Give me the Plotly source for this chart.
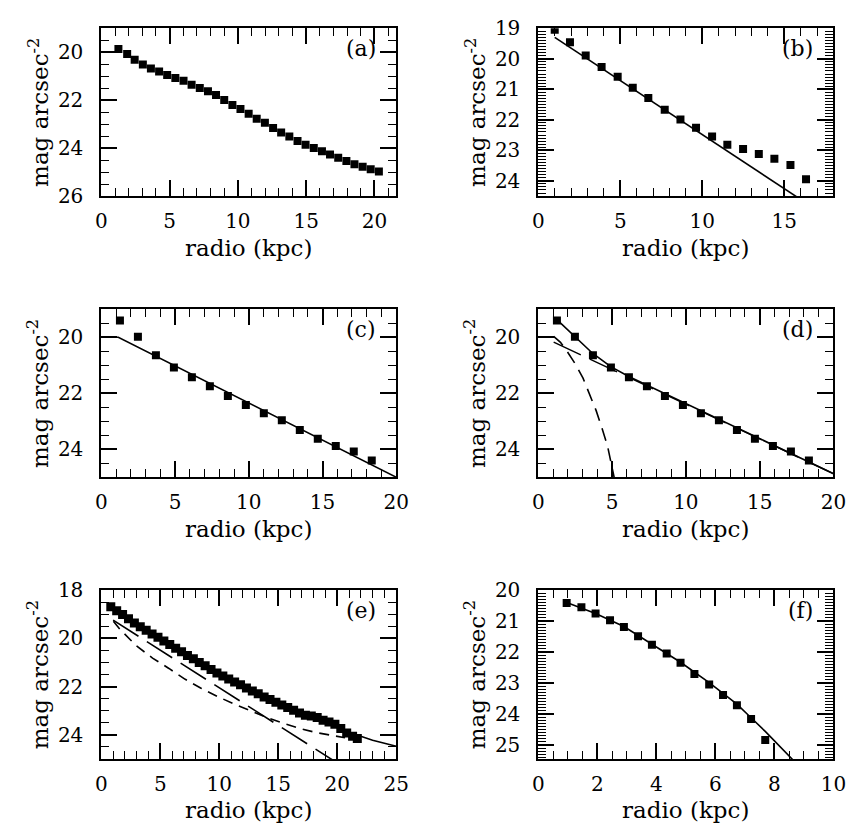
import plotly.graph_objects as go

# ---------------- data ----------------
a_x = [1.25, 1.89, 2.44, 3.04, 3.63, 4.23, 4.82, 5.42, 6.02, 6.61, 7.21, 7.81, 8.40, 9.00, 9.60,
       10.19, 10.79, 11.38, 11.98, 12.58, 13.17, 13.77, 14.37, 14.96, 15.56, 16.16, 16.75, 17.35,
       17.95, 18.54, 19.14, 19.73, 20.33]
a_y = [19.87, 20.07, 20.31, 20.51, 20.68, 20.81, 20.95, 21.08, 21.19, 21.36, 21.49, 21.63, 21.79,
       21.99, 22.20, 22.37, 22.57, 22.78, 22.94, 23.16, 23.35, 23.52, 23.70, 23.86, 24.00, 24.13,
       24.27, 24.40, 24.54, 24.67, 24.78, 24.88, 24.97]

b_x = [1.0, 1.93, 2.89, 3.86, 4.84, 5.76, 6.71, 7.71, 8.67, 9.62, 10.6, 11.53, 12.49, 13.45, 14.4,
       15.38, 16.33]
b_y = [19.05, 19.46, 19.89, 20.27, 20.59, 20.95, 21.29, 21.67, 21.99, 22.26, 22.55, 22.82, 22.96,
       23.12, 23.28, 23.48, 23.95]
b_fit_x = [1.0, 17.5]
b_fit_y = [19.3, 25.14]

cd_x = [1.26, 2.48, 3.70, 4.92, 6.14, 7.36, 8.58, 9.80, 11.02, 12.24, 13.46, 14.68, 15.90, 17.12,
        18.34]
cd_y = [19.40, 19.98, 20.64, 21.08, 21.43, 21.75, 22.10, 22.42, 22.71, 22.96, 23.31, 23.62, 23.88,
        24.08, 24.40]
c_fit_x = [0.0, 1.15, 20.2]
c_fit_y = [20.0, 20.0, 25.05]

d_total_x = [1.26, 2.48, 3.69, 4.91, 6.13, 20.2]
d_total_y = [19.37, 19.96, 20.58, 21.05, 21.40, 24.92]
d_disk_x = [1.04, 20.2]
d_disk_y = [20.17, 24.92]
d_flat_x = [0.0, 1.04]
d_flat_y = [20.0, 20.0]
d_bulge_x = [1.04, 1.50, 1.92, 2.50, 3.03, 3.50, 3.92, 4.30, 4.69, 5.13, 5.30]
d_bulge_y = [19.97, 20.18, 20.48, 20.95, 21.46, 22.05, 22.62, 23.22, 23.88, 24.98, 25.40]

e_x = [0.8, 1.3, 1.8, 2.3, 2.8, 3.3, 3.8, 4.3, 4.8, 5.3, 5.8, 6.3, 6.8, 7.3, 7.8, 8.3, 8.8, 9.3,
       9.8, 10.3, 10.8, 11.3, 11.8, 12.3, 12.8, 13.3, 13.8, 14.3, 14.8, 15.3, 15.8, 16.3, 16.8,
       17.3, 17.8, 18.3, 18.8, 19.3, 19.8, 20.3, 20.8, 21.3, 21.7]
e_y = [18.69, 18.86, 19.02, 19.19, 19.37, 19.52, 19.67, 19.82, 19.96, 20.11, 20.26, 20.41, 20.56,
       20.71, 20.85, 21.00, 21.14, 21.29, 21.44, 21.56, 21.69, 21.81, 21.93, 22.06, 22.18, 22.30,
       22.43, 22.54, 22.65, 22.76, 22.87, 22.98, 23.09, 23.19, 23.22, 23.28, 23.40, 23.47, 23.56,
       23.74, 23.92, 24.06, 24.15]
e_total_x = [0.8, 3.3, 5.8, 8.3, 10.8, 13.3, 15.8, 18.3, 20.8, 23.0, 25.0]
e_total_y = [18.69, 19.52, 20.26, 21.00, 21.69, 22.30, 22.87, 23.33, 23.86, 24.22, 24.47]
e_long_x = [1.0, 20.6]
e_long_y = [19.25, 25.35]
e_short_x = [1.02, 1.58, 2.96, 4.34, 5.73, 7.11, 8.49, 9.88, 11.26, 12.64, 14.02, 15.41, 16.79,
             18.17, 19.56, 20.66]
e_short_y = [19.29, 19.63, 20.31, 20.82, 21.25, 21.70, 22.08, 22.42, 22.72, 23.00, 23.28, 23.52,
             23.73, 23.90, 24.03, 24.12]

f_x = [0.96, 1.46, 1.94, 2.43, 2.90, 3.38, 3.85, 4.35, 4.82, 5.29, 5.79, 6.26, 6.73, 7.21, 7.69]
f_y = [20.42, 20.56, 20.76, 20.98, 21.19, 21.49, 21.77, 22.05, 22.35, 22.71, 23.05, 23.39, 23.72,
       24.16, 24.84]
f_fit_x = [0.96, 1.94, 2.90, 3.85, 4.82, 5.79, 6.73, 7.21, 7.69, 8.70]
f_fit_y = [20.40, 20.76, 21.18, 21.74, 22.33, 22.99, 23.68, 24.12, 24.56, 25.55]

panel_labels = ["(a)", "(b)", "(c)", "(d)", "(e)", "(f)"]
x_title = "radio (kpc)"
y_title = "mag arcsec<sup>-2</sup>"

# ---------------- layout geometry ----------------
W, H = 864, 839
FONT = "DejaVu Serif"
col_px = [(97.5, 399.0), (544.3, 846.0)]
row_px = [(16.7, 189.5), (306.0, 479.0), (595.0, 769.0)]

panels = [
    dict(col=0, row=0, xr=[0, 21.6], yr=[26, 19], xd=5, xm=1, yd=2, ym=0.5),
    dict(col=1, row=0, xr=[0, 18], yr=[24.5, 19], xd=5, xm=1, yd=1, ym=0.1),
    dict(col=0, row=1, xr=[0, 20], yr=[25, 19], xd=5, xm=1, yd=2, ym=0.5),
    dict(col=1, row=1, xr=[0, 20], yr=[25, 19], xd=5, xm=1, yd=2, ym=0.5),
    dict(col=0, row=2, xr=[0, 25], yr=[25, 18], xd=5, xm=1, yd=2, ym=0.5),
    dict(col=1, row=2, xr=[0, 10], yr=[25.45, 20], xd=2, xm=0.5, yd=1, ym=0.1),
]


def sfx(i):
    return "" if i == 0 else str(i + 1)


fig = go.Figure()


def sq(x, y, i, size=8):
    fig.add_trace(go.Scatter(x=x, y=y, mode="markers", xaxis="x" + sfx(i), yaxis="y" + sfx(i),
                             marker=dict(symbol="square", size=size, color="black"),
                             showlegend=False, cliponaxis=True))


def ln(x, y, i, dash="solid", width=1.6):
    fig.add_trace(go.Scatter(x=x, y=y, mode="lines", xaxis="x" + sfx(i), yaxis="y" + sfx(i),
                             line=dict(color="black", width=width, dash=dash),
                             showlegend=False))


# (a)
sq(a_x, a_y, 0)
# (b)
ln(b_fit_x, b_fit_y, 1)
sq(b_x, b_y, 1)
# (c)
ln(c_fit_x, c_fit_y, 2)
sq(cd_x, cd_y, 2)
# (d)
ln(d_flat_x, d_flat_y, 3)
ln(d_bulge_x, d_bulge_y, 3, dash="13px,8px")
ln(d_disk_x, d_disk_y, 3, dash="30px,10px", width=1.4)
ln(d_total_x, d_total_y, 3)
sq(cd_x, cd_y, 3)
# (e)
ln(e_long_x, e_long_y, 4, dash="30px,10px")
ln(e_short_x, e_short_y, 4, dash="10px,7px")
ln(e_total_x, e_total_y, 4)
sq(e_x, e_y, 4, size=9)
# (f)
ln(f_fit_x, f_fit_y, 5)
sq(f_x, f_y, 5)

annotations = []
layout_axes = {}
for i, p in enumerate(panels):
    s = sfx(i)
    x0, x1 = col_px[p["col"]]
    y0, y1 = row_px[p["row"]]
    xdom = [x0 / W, x1 / W]
    ydom = [1 - y1 / H, 1 - y0 / H]
    common = dict(showline=True, linecolor="black", linewidth=2, mirror="allticks",
                  ticks="inside", ticklen=16, tickwidth=1.6, tickcolor="black",
                  showgrid=False, zeroline=False, fixedrange=True,
                  tickfont=dict(family=FONT, size=20, color="black"))
    layout_axes["xaxis" + s] = dict(
        domain=xdom, range=p["xr"], anchor="y" + s, tick0=0, dtick=p["xd"],
        ticklabelstandoff=6,
        minor=dict(ticks="inside", ticklen=8, tickwidth=1.4, tickcolor="black", dtick=p["xm"],
                   tick0=0, showgrid=False),
        **common)
    layout_axes["yaxis" + s] = dict(
        domain=ydom, range=p["yr"], anchor="x" + s, tick0=0, dtick=p["yd"],
        ticklabelstandoff=12,
        minor=dict(ticks="inside", ticklen=8, tickwidth=1.4, tickcolor="black", dtick=p["ym"],
                   tick0=0, showgrid=False),
        **common)
    annotations.append(dict(text=panel_labels[i], xref="x" + s + " domain",
                            yref="y" + s + " domain",
                            x=1, y=1, xanchor="right", yanchor="top", xshift=-18, yshift=-6,
                            showarrow=False, font=dict(family=FONT, size=22, color="black")))
    annotations.append(dict(text=x_title, xref="paper", yref="paper",
                            x=(x0 + x1) / 2 / W, y=1 - (y1 + 53) / H,
                            xanchor="center", yanchor="middle", showarrow=False,
                            font=dict(family=FONT, size=23, color="black")))
    annotations.append(dict(text=y_title, xref="paper", yref="paper", textangle=-90,
                            x=(x0 - 64) / W, y=1 - (y0 + y1) / 2 / H,
                            xanchor="center", yanchor="middle", showarrow=False,
                            font=dict(family=FONT, size=23, color="black")))

fig.update_layout(width=W, height=H, margin=dict(l=0, r=0, t=0, b=0),
                  paper_bgcolor="white", plot_bgcolor="white",
                  annotations=annotations, showlegend=False, **layout_axes)

fig.write_html("out.html", include_plotlyjs=True, config={"displayModeBar": False})
